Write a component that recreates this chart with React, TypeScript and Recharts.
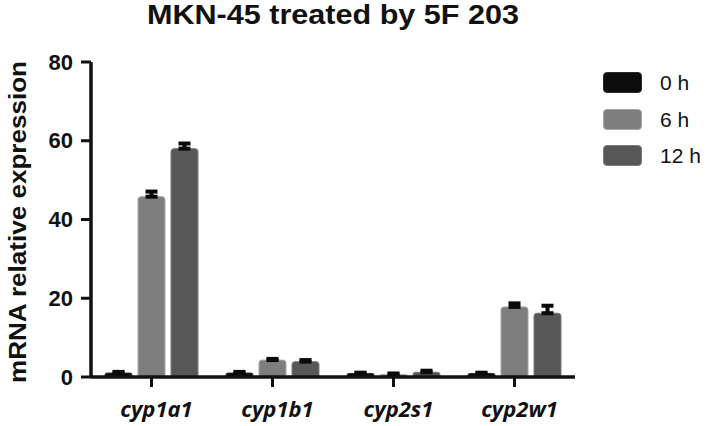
import React from "react";
import { BarChart, Bar, XAxis, YAxis, ErrorBar } from "recharts";

const genes = ["cyp1a1", "cyp1b1", "cyp2s1", "cyp2w1"];
const h0 = [1.0, 1.0, 0.9, 0.9];
const h0Err = [0.3, 0.3, 0.2, 0.2];
const h6 = [45.8, 4.3, 0.6, 17.8];
const h6Err = [1.3, 0.3, 0.3, 0.9];
const h12 = [58.0, 3.9, 1.2, 16.2];
const h12Err = [1.3, 0.4, 0.4, 1.9];
const yTicks = [0, 20, 40, 60, 80];

const series = [
  { key: "h0", name: "0 h", fill: "#0c0c0c", stroke: "#2a2a2a" },
  { key: "h6", name: "6 h", fill: "#7e7e7e", stroke: "#a6a6a6" },
  { key: "h12", name: "12 h", fill: "#575757", stroke: "#7a7a7a" },
];

const data = genes.map((g, i) => ({
  gene: g,
  h0: h0[i],
  h0e: [0, h0Err[i]],
  h6: h6[i],
  h6e: [0, h6Err[i]],
  h12: h12[i],
  h12e: [0, h12Err[i]],
}));

const YTick = ({ x, y, payload }: any) => (
  <text
    x={x}
    y={y}
    textAnchor="end"
    dominantBaseline="central"
    fontFamily="Liberation Sans, Arial, sans-serif"
    fontWeight="bold"
    fontSize={22}
    fill="#111"
  >
    {payload.value}
  </text>
);

const XTick = ({ x, y, payload }: any) => (
  <text
    x={x + 5}
    y={y + 26}
    textAnchor="middle"
    fontFamily="Open Sans, sans-serif"
    fontWeight="bold"
    fontStyle="italic"
    fontSize={22}
    fill="#111"
  >
    {payload.value}
  </text>
);

export default function App() {
  return (
    <div style={{ position: "absolute", left: 0, top: 0, width: 709, height: 426, background: "#fff" }}>
      <svg width={709} height={426} style={{ position: "absolute", left: 0, top: 0 }}>
        <text
          x={333}
          y={24}
          textAnchor="middle"
          textLength={372}
          lengthAdjust="spacingAndGlyphs"
          fontFamily="Liberation Sans, Arial, sans-serif"
          fontWeight="bold"
          fontSize={28}
          fill="#111"
        >
          MKN-45 treated by 5F 203
        </text>
        <text
          transform="translate(26,222) rotate(-90)"
          textAnchor="middle"
          textLength={322}
          lengthAdjust="spacingAndGlyphs"
          fontFamily="Liberation Sans, Arial, sans-serif"
          fontWeight="bold"
          fontSize={24}
          fill="#111"
        >
          mRNA relative expression
        </text>
      </svg>
      <div style={{ position: "absolute", left: 0, top: 0 }}>
        <BarChart
          width={709}
          height={426}
          data={data}
          margin={{ top: 62, right: 134, bottom: 0, left: 0 }}
          barSize={27}
          barGap={6}
        >
          <XAxis
            dataKey="gene"
            height={49}
            tick={<XTick />}
            tickSize={10}
            tickMargin={4}
            stroke="#111"
            strokeWidth={3.5}
            tickLine={{ stroke: "#111", strokeWidth: 3 }}
          />
          <YAxis
            width={91}
            domain={[0, 80]}
            ticks={yTicks}
            interval={0}
            tick={<YTick />}
            tickSize={10}
            tickMargin={8}
            stroke="#111"
            strokeWidth={3.5}
            tickLine={{ stroke: "#111", strokeWidth: 3 }}
          />
          {series.map((s) => (
            <Bar
              key={s.key}
              dataKey={s.key}
              name={s.name}
              fill={s.fill}
              stroke={s.stroke}
              strokeWidth={1}
              radius={[3, 3, 2, 2]}
              isAnimationActive={false}
            >
              <ErrorBar
                dataKey={s.key + "e"}
                direction="y"
                width={6}
                stroke="#0a0a0a"
                strokeWidth={4}
                isAnimationActive={false}
              />
            </Bar>
          ))}
        </BarChart>
      </div>
      {series.map((s, i) => (
        <div key={s.key} style={{ position: "absolute", left: 603, top: 72 + i * 36.5, display: "flex", alignItems: "center" }}>
          <div style={{ width: 39, height: 21, borderRadius: 4, background: s.fill, border: `1px solid ${s.stroke}`, boxSizing: "border-box" }} />
          <span
            style={{
              marginLeft: 18,
              fontFamily: "Liberation Sans, Arial, sans-serif",
              fontSize: 21,
              color: "#111",
              lineHeight: "21px",
            }}
          >
            {s.name}
          </span>
        </div>
      ))}
    </div>
  );
}
